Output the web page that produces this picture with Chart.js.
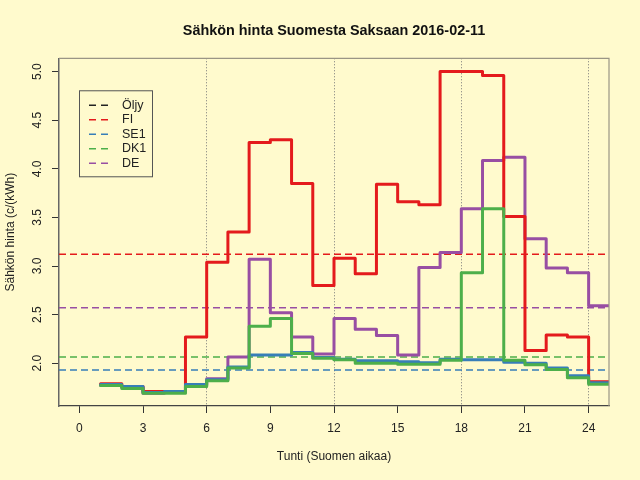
<!DOCTYPE html>
<html>
<head>
<meta charset="utf-8">
<script src="https://cdn.jsdelivr.net/npm/chart.js@4.4.1/dist/chart.umd.min.js"></script>
<style>
  html, body { margin: 0; padding: 0; background: #fffacd; }
  #wrap { width: 640px; height: 480px; }
</style>
</head>
<body>
<div id="wrap"><canvas id="hinta"></canvas></div>
<script>
// tunnit (Suomen aikaa), jokainen arvo kattaa tunnin [t, t+1]
const tunnit = [1, 2, 3, 4, 5, 6, 7, 8, 9, 10, 11, 12, 13, 14, 15, 16, 17, 18, 19, 20, 21, 22, 23, 24];
const viimeinenTunti = 25;

const hintaFI = [1.79, 1.76, 1.71, 1.71, 2.27, 3.04, 3.35, 4.27, 4.30, 3.85, 2.80, 3.08,
                 2.92, 3.84, 3.66, 3.63, 5.00, 5.00, 4.96, 3.51, 2.13, 2.29, 2.27, 1.81];
const hintaSE1 = [1.78, 1.76, 1.70, 1.71, 1.78, 1.83, 1.96, 2.085, 2.085, 2.11, 2.06, 2.04,
                  2.025, 2.025, 2.015, 2.005, 2.04, 2.035, 2.035, 2.01, 2.00, 1.95, 1.87, 1.80];
const hintaDK1 = [1.77, 1.74, 1.69, 1.69, 1.76, 1.82, 1.95, 2.38, 2.46, 2.10, 2.05, 2.035,
                  2.00, 2.00, 1.99, 1.99, 2.03, 2.93, 3.59, 2.03, 1.985, 1.935, 1.85, 1.785];
const hintaDE = [1.77, 1.75, 1.69, 1.70, 1.77, 1.84, 2.065, 3.07, 2.52, 2.27, 2.095, 2.46,
                 2.35, 2.285, 2.085, 2.985, 3.14, 3.59, 4.085, 4.12, 3.28, 2.98, 2.93, 2.59];

// vuorokauden keskihinnat: FI, SE1, DK1, DE
const keskiarvot = [3.12, 1.93, 2.065, 2.57];

const xTikit = [0, 3, 6, 9, 12, 15, 18, 21, 24];
const yTikit = [2.0, 2.5, 3.0, 3.5, 4.0, 4.5, 5.0];
const pystyViivat = [6, 12, 18, 24];
const seliteNimet = ['Öljy', 'FI', 'SE1', 'DK1', 'DE'];

const xMin = -0.96, xMax = 24.96;
const yMin = 1.56, yMax = 5.137;

const seliteVarit = ['#222222', '#e41a1c', '#377eb8', '#4daf4a', '#984ea3'];
const fontti = '"Liberation Sans", Arial, sans-serif';

Chart.defaults.font.family = fontti;
Chart.defaults.font.size = 12;
Chart.defaults.color = '#222';

function porras(arvot) {
    const pisteet = tunnit.map((t, i) => ({ x: t, y: arvot[i] }));
    pisteet.push({ x: viimeinenTunti, y: arvot[arvot.length - 1] });
    return pisteet;
}

function sarja(nimi, arvot, vari, jarjestys) {
    return {
        label: nimi,
        data: porras(arvot),
        borderColor: vari,
        borderWidth: 3,
        stepped: true,
        pointRadius: 0,
        fill: false,
        borderCapStyle: 'round',
        borderJoinStyle: 'round',
        order: jarjestys
    };
}

function keskiviiva(arvo, vari) {
    return {
        label: 'ka',
        data: [{ x: xMin, y: arvo }, { x: xMax, y: arvo }],
        borderColor: vari,
        borderWidth: 1.5,
        borderDash: [7, 4],
        pointRadius: 0,
        fill: false,
        order: 10
    };
}

const kuvaPlugin = {
    id: 'kuvaPlugin',
    afterDraw(chart) {
        const ctx = chart.ctx;
        const ala = chart.chartArea;
        const yAks = chart.scales.y;

        // y-akselin luvut pystyyn kuten R:ssä
        ctx.save();
        ctx.font = '12px ' + fontti;
        ctx.fillStyle = '#222';
        ctx.textAlign = 'center';
        ctx.textBaseline = 'middle';
        yAks.ticks.forEach(t => {
            const py = yAks.getPixelForValue(t.value);
            ctx.save();
            ctx.translate(ala.left - 21, py);
            ctx.rotate(-Math.PI / 2);
            ctx.fillText(t.value.toFixed(1), 0, 0);
            ctx.restore();
        });
        ctx.restore();

        // kuvan kehys ylhäällä ja oikealla
        ctx.save();
        ctx.strokeStyle = '#9a9585';
        ctx.lineWidth = 1.2;
        ctx.beginPath();
        ctx.moveTo(ala.left, ala.top);
        ctx.lineTo(ala.right, ala.top);
        ctx.lineTo(ala.right, ala.bottom);
        ctx.stroke();
        ctx.restore();

        // selite
        const sx = ala.left + 20, sy = ala.top + 32;
        ctx.save();
        ctx.strokeStyle = '#555';
        ctx.lineWidth = 1;
        ctx.strokeRect(sx + 0.5, sy + 0.5, 73, 86);
        ctx.font = '12.5px ' + fontti;
        ctx.textAlign = 'left';
        ctx.textBaseline = 'middle';
        seliteNimet.forEach((nimi, i) => {
            const ry = sy + 15 + i * 14.5;
            ctx.strokeStyle = seliteVarit[i];
            ctx.lineWidth = 1.5;
            ctx.setLineDash([7, 5]);
            ctx.beginPath();
            ctx.moveTo(sx + 10, ry);
            ctx.lineTo(sx + 30, ry);
            ctx.stroke();
            ctx.setLineDash([]);
            ctx.fillStyle = '#222';
            ctx.fillText(nimi, sx + 43, ry);
        });
        ctx.restore();
    }
};

new Chart(document.getElementById('hinta'), {
    type: 'line',
    data: {
        datasets: [
            sarja('DK1', hintaDK1, seliteVarit[3], 1),
            sarja('SE1', hintaSE1, seliteVarit[2], 2),
            sarja('FI', hintaFI, seliteVarit[1], 3),
            sarja('DE', hintaDE, seliteVarit[4], 4),
            keskiviiva(keskiarvot[0], seliteVarit[1]),
            keskiviiva(keskiarvot[1], seliteVarit[2]),
            keskiviiva(keskiarvot[2], seliteVarit[3]),
            keskiviiva(keskiarvot[3], seliteVarit[4])
        ]
    },
    options: {
        responsive: true,
        maintainAspectRatio: false,
        animation: false,
        events: [],
        layout: { padding: { left: 0, right: 31, top: 0, bottom: 0 } },
        plugins: {
            legend: { display: false },
            tooltip: { enabled: false },
            title: {
                display: true,
                fullSize: false,
                text: 'Sähkön hinta Suomesta Saksaan 2016-02-11',
                color: '#111',
                font: { size: 14.4, weight: 'bold' },
                padding: { top: 22, bottom: 19 }
            }
        },
        scales: {
            x: {
                type: 'linear',
                min: xMin,
                max: xMax,
                afterBuildTicks: (s) => { s.ticks = xTikit.map(v => ({ value: v })); },
                afterFit: (s) => { s.height = 74; },
                ticks: { autoSkip: false, maxRotation: 0, padding: 8, color: '#222' },
                grid: {
                    color: (c) => (c.tick && pystyViivat.includes(c.tick.value)) ? '#777' : 'rgba(0,0,0,0)',
                    lineWidth: 1,
                    tickColor: '#333',
                    tickLength: 7
                },
                border: { display: true, color: '#444', width: 1.2, dash: [1, 2] },
                title: {
                    display: true,
                    text: 'Tunti (Suomen aikaa)',
                    color: '#222',
                    padding: { top: 4, bottom: 16 }
                }
            },
            y: {
                type: 'linear',
                min: yMin,
                max: yMax,
                afterBuildTicks: (s) => { s.ticks = yTikit.map(v => ({ value: v })); },
                afterFit: (s) => { s.width = 59; },
                ticks: { display: false },
                grid: { drawOnChartArea: false, tickColor: '#333', tickLength: 7 },
                border: { display: true, color: '#666', width: 1.5 },
                title: {
                    display: true,
                    text: 'Sähkön hinta (c/(kWh)',
                    color: '#222',
                    padding: { top: 3, bottom: 3 }
                }
            }
        }
    },
    plugins: [kuvaPlugin]
});
</script>
</body>
</html>
